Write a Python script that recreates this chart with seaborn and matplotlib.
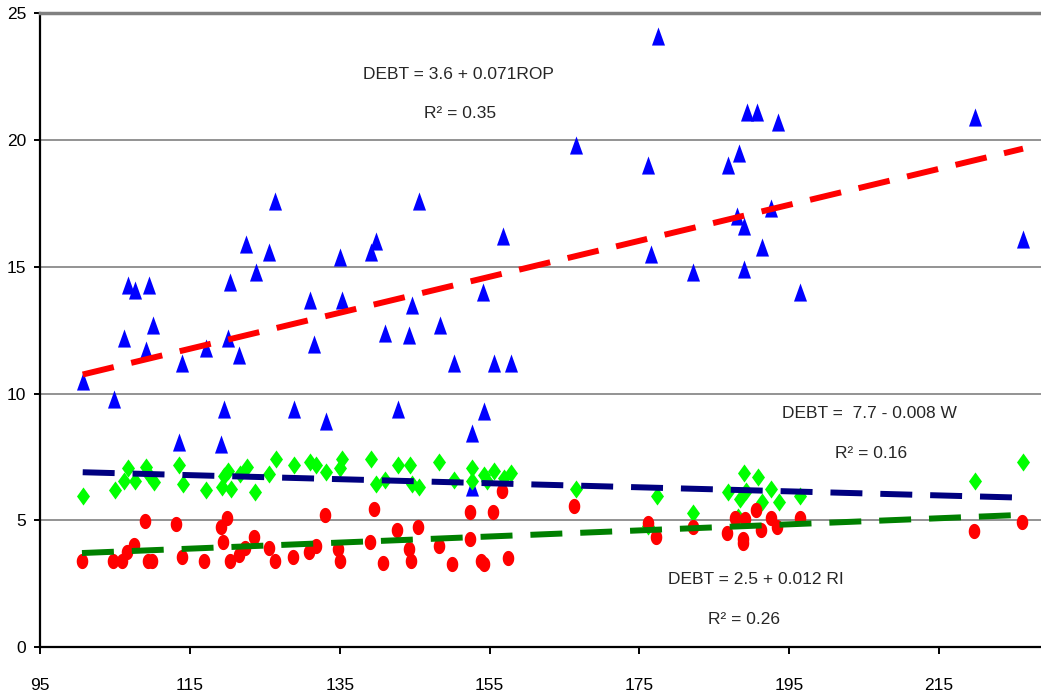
import numpy as np
import pandas as pd
import matplotlib
matplotlib.use("Agg")
import matplotlib.pyplot as plt
from matplotlib.path import Path
import seaborn as sns

# ---------------- data ----------------
rop_x = [100.7, 104.9, 106.2, 106.7, 107.7, 109.6, 110.1, 109.1, 113.5, 114.0,
         117.1, 119.2, 119.5, 120.1, 120.4, 121.6, 122.5, 123.8, 125.6, 126.4,
         128.9, 131.1, 131.6, 133.2, 135.0, 135.3, 139.2, 139.9, 141.0, 142.8,
         144.3, 144.7, 145.6, 148.4, 150.2, 152.6, 152.6, 154.1, 154.3, 155.6,
         156.8, 157.8, 166.5, 176.2, 176.5, 177.5, 182.2, 186.8, 188.0, 188.3,
         188.9, 188.9, 189.3, 190.7, 191.4, 192.5, 193.5, 196.5, 219.8, 226.2]
rop_y = [10.5, 9.8, 12.2, 14.3, 14.1, 14.3, 12.7, 11.7, 8.1, 11.2,
         11.8, 8.0, 9.4, 12.2, 14.4, 11.5, 15.9, 14.8, 15.6, 17.6,
         9.4, 13.7, 11.95, 8.9, 15.4, 13.7, 15.6, 16.0, 12.4, 9.4,
         12.3, 13.5, 17.6, 12.7, 11.2, 8.45, 6.3, 14.0, 9.3, 11.2,
         16.2, 11.2, 19.8, 19.0, 15.5, 24.1, 14.8, 19.0, 17.0, 19.5,
         16.6, 14.9, 21.1, 21.1, 15.8, 17.3, 20.7, 14.0, 20.9, 16.1]

w_x = [100.7, 105.0, 106.2, 106.8, 107.7, 109.2, 109.6, 110.2, 113.5, 114.1,
       117.1, 119.3, 119.6, 120.1, 120.5, 121.7, 122.6, 123.7, 125.6, 126.5,
       128.9, 131.0, 131.9, 133.2, 135.0, 135.3, 139.2, 139.8, 141.1, 142.8,
       144.4, 144.7, 145.6, 148.3, 150.2, 152.6, 152.6, 154.2, 154.6, 155.6,
       156.9, 157.8, 166.5, 176.2, 177.4, 182.2, 186.8, 188.1, 188.4, 188.9,
       189.2, 190.8, 191.4, 192.6, 193.6, 196.5, 219.8, 226.2]
w_y = [5.97, 6.19, 6.56, 7.05, 6.56, 7.09, 6.78, 6.52, 7.18, 6.43,
       6.19, 6.32, 6.74, 6.95, 6.22, 6.82, 7.09, 6.10, 6.82, 7.41,
       7.18, 7.28, 7.18, 6.91, 7.05, 7.41, 7.41, 6.45, 6.59, 7.18,
       7.18, 6.45, 6.32, 7.28, 6.59, 7.05, 6.56, 6.78, 6.56, 6.95,
       6.65, 6.85, 6.22, 4.78, 5.95, 5.27, 6.10, 5.12, 5.84, 6.85,
       6.17, 6.72, 5.72, 6.22, 5.73, 5.96, 6.56, 7.28]

ri_x = [100.6, 104.8, 106.0, 106.6, 107.5, 109.0, 109.4, 110.0, 113.2, 113.9,
        116.9, 119.1, 119.4, 120.0, 120.3, 121.5, 122.4, 123.6, 125.5, 126.4,
        128.8, 130.9, 131.9, 133.0, 134.8, 135.1, 139.1, 139.6, 140.8, 142.7,
        144.3, 144.5, 145.4, 148.2, 150.0, 152.4, 152.4, 153.9, 154.2, 155.4,
        156.6, 157.5, 166.3, 176.2, 177.2, 182.1, 186.7, 187.8, 188.8, 188.8,
        189.1, 190.6, 191.2, 192.5, 193.4, 196.4, 219.7, 226.1]
ri_y = [3.40, 3.40, 3.40, 3.76, 4.02, 4.97, 3.40, 3.40, 4.84, 3.54,
        3.40, 4.72, 4.13, 5.07, 3.40, 3.63, 3.89, 4.35, 3.89, 3.40,
        3.54, 3.76, 3.98, 5.20, 3.85, 3.40, 4.13, 5.43, 3.30, 4.61,
        3.86, 3.40, 4.72, 4.00, 3.27, 5.34, 4.25, 3.40, 3.27, 5.34,
        6.15, 3.52, 5.56, 4.88, 4.32, 4.73, 4.48, 5.08, 4.25, 4.10,
        5.06, 5.42, 4.61, 5.07, 4.72, 5.07, 4.59, 4.94]

# trend-line coefficients (intercept, slope) from the chart labels
rop_fit = (3.6, 0.071)
w_fit = (7.7, -0.008)
ri_fit = (2.5, 0.012)

x_ticks = [95, 115, 135, 155, 175, 195, 215]
y_ticks = [0, 5, 10, 15, 20, 25]

labels = [
    ("DEBT = 3.6 + 0.071ROP", "R² = 0.35", (150.8, 22.6), (151.1, 21.05)),
    ("DEBT =  7.7 - 0.008 W", "R² = 0.16", (205.7, 9.2), (205.9, 7.65)),
    ("DEBT = 2.5 + 0.012 RI", "R² = 0.26", (190.5, 2.65), (188.9, 1.1)),
]

# ---------------- style ----------------
sns.set_theme(style="white")
FAM = ["Liberation Sans Narrow", "Liberation Sans", "DejaVu Sans"]
plt.rcParams["font.family"] = FAM
FS = 12.5

fig = plt.figure(figsize=(10.41, 6.97), dpi=100)
ax = fig.add_axes([40 / 1041, 50 / 697, 1 - 40 / 1041, (647 - 13.3) / 697])

# custom marker shapes (taller than wide, like the reference)
tri = Path([(0, 1), (-0.72, -1), (0.72, -1), (0, 1)],
           [Path.MOVETO, Path.LINETO, Path.LINETO, Path.CLOSEPOLY])
dia = Path([(0, 1), (0.72, 0), (0, -1), (-0.72, 0), (0, 1)],
           [Path.MOVETO, Path.LINETO, Path.LINETO, Path.LINETO, Path.CLOSEPOLY])
t = np.linspace(0, 2 * np.pi, 40)
ell = Path(np.column_stack([0.76 * np.sin(t), np.cos(t)]), closed=True)

df_rop = pd.DataFrame({"x": rop_x, "y": rop_y})
df_w = pd.DataFrame({"x": w_x, "y": w_y})
df_ri = pd.DataFrame({"x": ri_x, "y": ri_y})

sns.scatterplot(data=df_rop, x="x", y="y", ax=ax, marker=tri, s=170,
                color="#0000FF", linewidth=0, zorder=3)
sns.scatterplot(data=df_w, x="x", y="y", ax=ax, marker=dia, s=170,
                color="#00FF00", linewidth=0, zorder=3)
sns.scatterplot(data=df_ri, x="x", y="y", ax=ax, marker=ell, s=120,
                color="#FF0000", linewidth=0, zorder=3)

LW = 4.3
DASH = (0, (5.35, 3.0))
for df, (a, b), col in [(df_rop, rop_fit, "#FF0000"),
                        (df_w, w_fit, "#000080"),
                        (df_ri, ri_fit, "#008000")]:
    xl = np.array([df["x"].min(), df["x"].max()])
    line = pd.DataFrame({"x": xl, "y": a + b * xl})
    n0 = len(ax.lines)
    sns.lineplot(data=line, x="x", y="y", ax=ax, color=col, zorder=4,
                 linewidth=LW, linestyle=DASH, dash_capstyle="butt")
    for ln in ax.lines[n0:]:
        ln.set_linewidth(LW)
        ln.set_linestyle(DASH)
        ln.set_dash_capstyle("butt")

for eq, r2, p1, p2 in labels:
    ax.text(*p1, eq, ha="center", va="center", fontsize=FS, family=FAM)
    ax.text(*p2, r2, ha="center", va="center", fontsize=FS, family=FAM)

ax.set_xlim(95, 228.6)
ax.set_ylim(0, 25)
ax.set_xticks(x_ticks)
ax.set_yticks(y_ticks)
ax.set_xlabel("")
ax.set_ylabel("")
ax.yaxis.grid(True, color="#808080", lw=1.2)
ax.xaxis.grid(False)
ax.set_axisbelow(True)

for s in ["left", "bottom"]:
    ax.spines[s].set_color("black")
    ax.spines[s].set_linewidth(1.6)
ax.spines["right"].set_visible(False)
ax.spines["top"].set_color("#808080")
ax.spines["top"].set_linewidth(2.5)

ax.tick_params(axis="x", direction="out", length=5, width=1.4, pad=17,
               labelsize=FS, colors="black", bottom=True)
ax.tick_params(axis="y", direction="out", length=4, width=1.4, pad=6,
               labelsize=FS, colors="black", left=True)
for lab in ax.get_xticklabels() + ax.get_yticklabels():
    lab.set_family(FAM)

fig.savefig("out.png", dpi=100)
